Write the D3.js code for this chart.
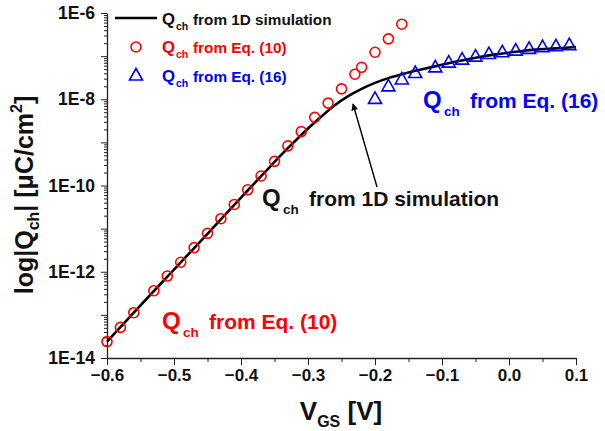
<!DOCTYPE html>
<html>
<head>
<meta charset="utf-8">
<script src="https://cdn.jsdelivr.net/npm/d3@7"></script>
<style>
  html, body { margin: 0; padding: 0; background: #fff; }
  svg text { font-family: "Liberation Sans", Arial, sans-serif; font-weight: bold; }
</style>
</head>
<body>
<svg id="chart"></svg>
<script>
// 1D simulation curve (V_GS, log10 Q_ch)
const simV = [-0.6, -0.55, -0.5, -0.45, -0.4, -0.38, -0.36, -0.34, -0.32, -0.3, -0.28, -0.26, -0.24, -0.22, -0.2,
  -0.18, -0.16, -0.14, -0.12, -0.1, -0.08, -0.06, -0.04, -0.02, 0, 0.02, 0.04, 0.06, 0.08, 0.1];
const simLogQ = [-13.62, -12.78, -11.95, -11.12, -10.28, -9.95, -9.62, -9.29, -8.98, -8.68, -8.40, -8.14, -7.93, -7.76, -7.62,
  -7.51, -7.42, -7.34, -7.27, -7.20, -7.13, -7.07, -7.01, -6.96, -6.92, -6.88, -6.85, -6.83, -6.81, -6.79];

// Eq. (10) circles
const eq10V = [-0.6, -0.58, -0.56, -0.53, -0.51, -0.49, -0.47, -0.45, -0.43, -0.41, -0.39, -0.37, -0.35, -0.33,
  -0.31, -0.29, -0.27, -0.25, -0.23, -0.22, -0.2, -0.18, -0.16];
const eq10LogQ = [-13.62, -13.29, -12.95, -12.44, -12.10, -11.78, -11.44, -11.11, -10.77, -10.44, -10.10, -9.78, -9.44, -9.08,
  -8.75, -8.42, -8.09, -7.76, -7.42, -7.26, -6.91, -6.60, -6.26];

// Eq. (16) triangles
const eq16V = [-0.2, -0.18, -0.16, -0.14, -0.11, -0.09, -0.07, -0.05, -0.03, -0.01, 0.01, 0.03, 0.05, 0.07, 0.09];
const eq16LogQ = [-7.98, -7.69, -7.53, -7.38, -7.25, -7.14, -7.07, -7.00, -6.94, -6.90, -6.86, -6.82, -6.78, -6.76, -6.735];

const xTicks = [-0.6, -0.5, -0.4, -0.3, -0.2, -0.1, 0.0, 0.1];
const xMinorTicks = [-0.55, -0.45, -0.35, -0.25, -0.15, -0.05, 0.05];
const yDecades = [-14, -13, -12, -11, -10, -9, -8, -7, -6];
const yLabels = { '-14': '1E-14', '-12': '1E-12', '-10': '1E-10', '-8': '1E-8', '-6': '1E-6' };

const width = 605, height = 431;
const svg = d3.select('#chart')
  .attr('width', width)
  .attr('height', height)
  .attr('viewBox', `0 0 ${width} ${height}`);

const x = d3.scaleLinear().domain([-0.6, 0.1]).range([107, 576]);
const y = d3.scaleLog().domain([1e-14, 1e-6]).range([358, 13]);

const red = '#ff0000', blue = '#0000ff';

// axes
const yMajor = yDecades.map(d => Math.pow(10, d));
const yMinor = [];
yDecades.slice(0, -1).forEach(d => {
  for (let k = 2; k <= 9; k++) yMinor.push(k * Math.pow(10, d));
});

svg.append('g')
  .attr('transform', `translate(${x(-0.6)},0)`)
  .call(d3.axisLeft(y).tickValues(yMinor).tickSize(3).tickSizeOuter(0).tickFormat(''))
  .call(g => g.select('.domain').remove());
svg.append('g')
  .attr('class', 'yaxis')
  .attr('transform', `translate(${x(-0.6)},0)`)
  .call(d3.axisLeft(y).tickValues(yMajor).tickSize(6).tickSizeOuter(0).tickPadding(6)
    .tickFormat(d => yLabels[Math.round(Math.log10(d))] || ''));

svg.append('g')
  .attr('transform', `translate(0,${y(1e-14)})`)
  .call(d3.axisBottom(x).tickValues(xMinorTicks).tickSize(4).tickSizeOuter(0).tickFormat(''))
  .call(g => g.select('.domain').remove());
svg.append('g')
  .attr('class', 'xaxis')
  .attr('transform', `translate(0,${y(1e-14)})`)
  .call(d3.axisBottom(x).tickValues(xTicks).tickSize(7).tickSizeOuter(0).tickPadding(4)
    .tickFormat(d3.format('.1f')));

svg.selectAll('.domain').attr('stroke', '#222').attr('stroke-width', 1.3);
svg.selectAll('.tick line').attr('stroke', '#222').attr('stroke-width', 1);
svg.selectAll('.yaxis text').attr('font-size', 17.5).attr('fill', '#111');
svg.selectAll('.xaxis text').attr('font-size', 17).attr('fill', '#111');

// axis titles
const yTitle = svg.append('text')
  .attr('transform', 'translate(33,195) rotate(-90)')
  .attr('text-anchor', 'middle')
  .attr('font-size', 25)
  .attr('fill', '#111');
yTitle.append('tspan').text('log|Q');
yTitle.append('tspan').attr('font-size', 16).attr('dy', 6).text('ch');
yTitle.append('tspan').attr('dy', -6).text('| [\u03BCC/cm');
yTitle.append('tspan').attr('font-size', 16).attr('dy', -11).text('2');
yTitle.append('tspan').attr('dy', 11).text(']');

const xTitle = svg.append('text')
  .attr('x', 341)
  .attr('y', 420)
  .attr('text-anchor', 'middle')
  .attr('font-size', 26)
  .attr('fill', '#111');
xTitle.append('tspan').text('V');
xTitle.append('tspan').attr('font-size', 16).attr('dy', 7).text('GS');
xTitle.append('tspan').attr('dy', -7).text(' [V]');

// simulation curve
const line = d3.line()
  .x(d => x(d[0]))
  .y(d => y(Math.pow(10, d[1])))
  .curve(d3.curveMonotoneX);
svg.append('path')
  .datum(simV.map((v, i) => [v, simLogQ[i]]))
  .attr('fill', 'none')
  .attr('stroke', '#000')
  .attr('stroke-width', 2.6)
  .attr('d', line);

// Eq. (10) circles
svg.append('g')
  .selectAll('circle')
  .data(eq10V.map((v, i) => [v, eq10LogQ[i]]))
  .enter().append('circle')
    .attr('cx', d => x(d[0]))
    .attr('cy', d => y(Math.pow(10, d[1])))
    .attr('r', 5)
    .attr('fill', 'none')
    .attr('stroke', red)
    .attr('stroke-width', 1.6);

// Eq. (16) triangles
const tri = 'M0,-6.5L6.5,5L-6.5,5Z';
svg.append('g')
  .selectAll('path')
  .data(eq16V.map((v, i) => [v, eq16LogQ[i]]))
  .enter().append('path')
    .attr('transform', d => `translate(${x(d[0])},${y(Math.pow(10, d[1]))})`)
    .attr('d', tri)
    .attr('fill', 'none')
    .attr('stroke', blue)
    .attr('stroke-width', 1.6);

// legend
const legend = svg.append('g');
legend.append('line')
  .attr('x1', 115).attr('x2', 157).attr('y1', 18).attr('y2', 18)
  .attr('stroke', '#000').attr('stroke-width', 2.6);
legend.append('circle')
  .attr('cx', 136).attr('cy', 47).attr('r', 5)
  .attr('fill', 'none').attr('stroke', red).attr('stroke-width', 1.6);
legend.append('path')
  .attr('transform', 'translate(136,75)')
  .attr('d', tri)
  .attr('fill', 'none').attr('stroke', blue).attr('stroke-width', 1.6);

// "Q_ch <rest>" label: sizes and offsets for Q, subscript, remainder
function qLabel(g, px, py, rest, color, s) {
  const t = g.append('text').attr('y', py).attr('fill', color);
  t.append('tspan').attr('x', px).attr('font-size', s.big).text('Q');
  t.append('tspan').attr('x', px + s.chOff).attr('font-size', s.sub).attr('dy', s.subDy).text('ch');
  t.append('tspan').attr('x', px + s.restOff).attr('font-size', s.small).attr('dy', -s.subDy).text(rest);
  return t;
}
const legendStyle = { big: 16.7, sub: 10.5, small: 15.3, subDy: 5, chOff: 14, restOff: 31 };
const noteStyle = { big: 24, sub: 13.5, small: 21, subDy: 8, chOff: 21, restOff: 47 };
qLabel(legend, 162, 25, 'from 1D simulation', '#111', legendStyle);
qLabel(legend, 162, 53, 'from Eq. (10)', red, legendStyle);
qLabel(legend, 162, 82, 'from Eq. (16)', blue, legendStyle);

// annotations
qLabel(svg, 423, 108, 'from Eq. (16)', blue, noteStyle);
qLabel(svg, 262, 206, 'from 1D simulation', '#111', noteStyle);
qLabel(svg, 162, 329, 'from Eq. (10)', red, noteStyle);

// arrow
svg.append('defs').append('marker')
  .attr('id', 'arrowhead')
  .attr('viewBox', '0 0 10 10')
  .attr('refX', 9).attr('refY', 5)
  .attr('markerWidth', 7).attr('markerHeight', 7)
  .attr('markerUnits', 'userSpaceOnUse')
  .attr('orient', 'auto')
  .append('path')
    .attr('d', 'M0,0L10,5L0,10Z')
    .attr('fill', '#000');
svg.append('line')
  .attr('x1', 377).attr('y1', 187)
  .attr('x2', 353).attr('y2', 104)
  .attr('stroke', '#000')
  .attr('stroke-width', 1.4)
  .attr('marker-end', 'url(#arrowhead)');
</script>
</body>
</html>
